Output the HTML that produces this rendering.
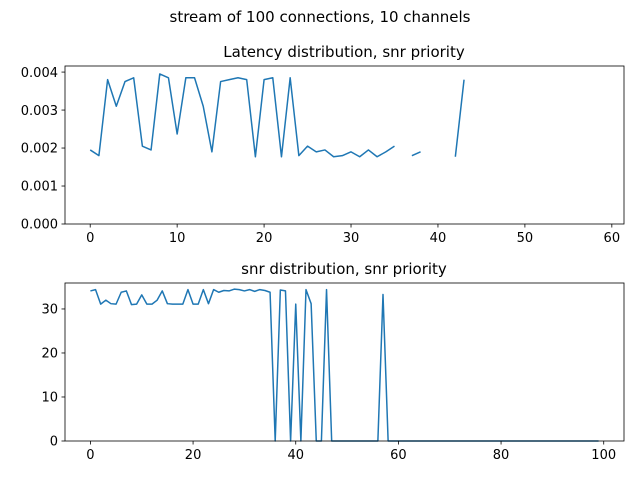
<!DOCTYPE html>
<html><head><meta charset="utf-8"><style>
body{margin:0;background:#fff}
svg{display:block;font-family:"DejaVu Sans","Liberation Sans",sans-serif}
</style></head><body>
<svg id="fig" width="640" height="480">
<rect width="640" height="480" fill="#fff"/>
<text x="320" y="22" font-size="15" text-anchor="middle">stream of 100 connections, 10 channels</text>
<text x="344" y="57" font-size="15" text-anchor="middle">Latency distribution, snr priority</text>
<text x="344" y="274" font-size="15" text-anchor="middle">snr distribution, snr priority</text>
</svg>
<script>
const latencyValues = [0.00195,0.0018,0.0038,0.0031,0.00375,0.00385,0.00205,0.00195,0.00395,0.00385,0.00237,0.00385,0.00385,0.0031,0.0019,0.00375,0.0038,0.00385,0.0038,0.00177,0.0038,0.00385,0.00177,0.00385,0.0018,0.00205,0.0019,0.00195,0.00177,0.0018,0.0019,0.00177,0.00195,0.00177,0.0019,0.00205,null,0.0018,0.0019,null,null,null,0.00177,0.0038];
const latencyXTicks = [0,10,20,30,40,50,60];
const latencyYTicks = [0,0.001,0.002,0.003,0.004];
const latencyYLabels = ["0.000","0.001","0.002","0.003","0.004"];
const snrHead = [34.1,34.4,31.1,32.0,31.2,31.1,33.8,34.1,31.0,31.1,33.2,31.1,31.1,32.0,34.1,31.2,31.1,31.1,31.1,34.4,31.1,31.1,34.4,31.2,34.4,33.8,34.2,34.1,34.5,34.4,34.1,34.4,34.0,34.4,34.2,33.8,0,34.3,34.1,0,31.1,0,34.4,31.2,0,0,34.4,0,0,0,0,0,0,0,0,0,0,33.3];
const snrValues = snrHead.concat(new Array(100 - snrHead.length).fill(0));
const snrXTicks = [0,20,40,60,80,100];
const snrYTicks = [0,10,20,30];

const NS = "http://www.w3.org/2000/svg";
const svg = document.getElementById('fig');
function el(tag, attrs){const e=document.createElementNS(NS,tag);for(const k in attrs)e.setAttribute(k,attrs[k]);svg.appendChild(e);return e;}

function panel(name, box, xlim, ylim, vals, xt, xtl, yt, ytl){
  const sx=v=>box.l+(v-xlim[0])/(xlim[1]-xlim[0])*(box.r-box.l);
  const sy=v=>box.b-(v-ylim[0])/(ylim[1]-ylim[0])*(box.b-box.t);
  let d="", pen=false;
  vals.forEach((v,i)=>{ if(v===null){pen=false;return;} d+=(pen?"L":"M")+sx(i).toFixed(2)+","+sy(v).toFixed(2); pen=true;});
  const line=el('path',{d:d,fill:'none',stroke:'#1f77b4','stroke-width':1.5,'stroke-linejoin':'round'});
  
  
  xt.forEach((t,i)=>{const x=sx(t);
    const tk=el('line',{x1:x,x2:x,y1:box.b,y2:box.b+3.5,stroke:'#000','stroke-width':0.8});
    
    
    const tx=el('text',{x:x,y:box.b+18,'font-size':13,'text-anchor':'middle'});tx.textContent=xtl[i];
    
    
  });
  yt.forEach((t,i)=>{const y=sy(t);
    const tk=el('line',{x1:box.l-3.5,x2:box.l,y1:y,y2:y,stroke:'#000','stroke-width':0.8});
    
    
    const tx=el('text',{x:box.l-7,y:y+4.7,'font-size':13,'text-anchor':'end'});tx.textContent=ytl[i];
    
    
  });
  const fr=el('rect',{x:box.l,y:box.t,width:box.r-box.l,height:box.b-box.t,fill:'none',stroke:'#000','stroke-width':0.8});
  
  
}
panel('latency',{l:65,r:624,t:66,b:224},[-2.9,61.4],[0,0.00416],latencyValues,latencyXTicks,latencyXTicks.map(String),latencyYTicks,latencyYLabels);
panel('snr',{l:65,r:624,t:283,b:441},[-4.95,103.95],[0,35.9],snrValues,snrXTicks,snrXTicks.map(String),snrYTicks,snrYTicks.map(String));
</script>
</body></html>
